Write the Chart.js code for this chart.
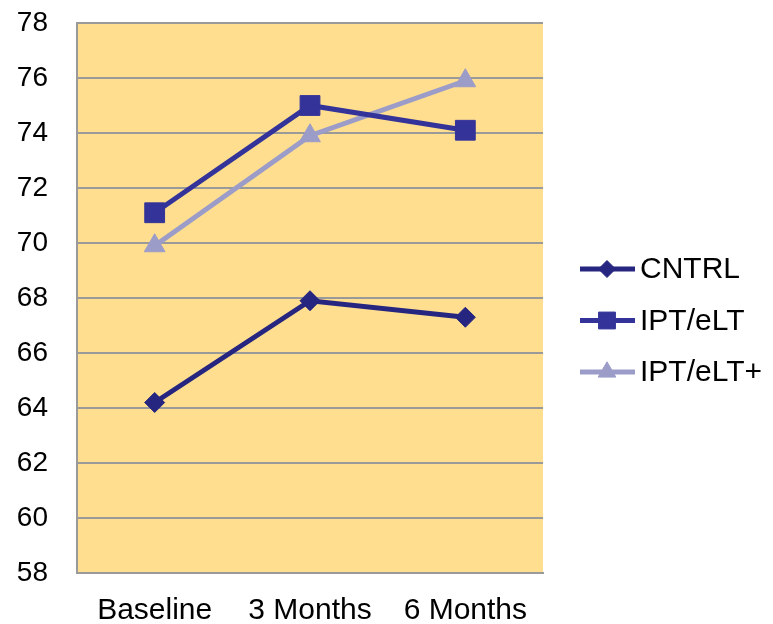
<!doctype html>
<html lang="en">
<head>
<meta charset="utf-8">
<title>Scores over time</title>
<script src="https://cdn.jsdelivr.net/npm/chart.js@4.4.1/dist/chart.umd.min.js"></script>
<style>
  html, body { margin: 0; padding: 0; background: #fff; }
  #wrap { width: 773px; height: 624px; }
</style>
</head>
<body>
<div id="wrap"><canvas id="myChart" width="773" height="624"></canvas></div>
<script>
// data
const categories = ['Baseline', '3 Months', '6 Months'];
const seriesNames = ['CNTRL', 'IPT/eLT', 'IPT/eLT+'];
const cntrl = [64.2, 67.9, 67.3];
const iptElt = [71.1, 75.0, 74.1];
const iptEltPlus = [69.9, 73.9, 75.9];
const yTicks = [58, 60, 62, 64, 66, 68, 70, 72, 74, 76, 78];

const FONT = '"Liberation Sans", Arial, sans-serif';
const colors = ['#262680', '#333399', '#9C9CC8'];
const markers = ['rectRot', 'rect', 'triangle'];
const radii = [10, 14, 12];

// yellow plot background
const plotBg = {
  id: 'plotBg',
  beforeDraw(chart) {
    const a = chart.chartArea, ctx = chart.ctx;
    ctx.save();
    ctx.fillStyle = '#FFDF8F';
    ctx.fillRect(a.left, a.top, a.right - a.left, a.bottom - a.top);
    ctx.restore();
  }
};

// legend with line + marker, like the office style one
const sideLegend = {
  id: 'sideLegend',
  afterDraw(chart) {
    const ctx = chart.ctx, a = chart.chartArea;
    const x0 = a.right + 37;
    let y = 269;
    ctx.save();
    chart.data.datasets.forEach(function(ds) {
      ctx.strokeStyle = ds.borderColor;
      ctx.lineWidth = 5;
      ctx.beginPath();
      ctx.moveTo(x0, y);
      ctx.lineTo(x0 + 55, y);
      ctx.stroke();
      ctx.fillStyle = ds.pointBackgroundColor;
      ctx.strokeStyle = ds.pointBackgroundColor;
      ctx.lineWidth = 1;
      Chart.helpers.drawPoint(ctx, {
        pointStyle: ds.pointStyle, rotation: 0, borderWidth: 1,
        radius: ds.pointRadius * 0.85
      }, x0 + 27, y);
      ctx.fillStyle = '#000';
      ctx.font = '30px ' + FONT;
      ctx.textBaseline = 'middle';
      ctx.textAlign = 'left';
      ctx.fillText(ds.label, x0 + 60, y + 1);
      y += 51.5;
    });
    ctx.restore();
  }
};

const seriesData = [cntrl, iptElt, iptEltPlus];
const datasets = seriesNames.map(function(name, i) {
  return {
    label: name,
    data: seriesData[i],
    borderColor: colors[i],
    backgroundColor: colors[i],
    pointBackgroundColor: colors[i],
    pointBorderColor: colors[i],
    pointStyle: markers[i],
    pointRadius: radii[i],
    pointHoverRadius: radii[i],
    pointBorderWidth: 1,
    borderWidth: 5,
    tension: 0,
    fill: false
  };
});

var ctx = document.getElementById('myChart').getContext('2d');
var chart = new Chart(ctx, {
  type: 'line',
  data: { labels: categories, datasets: datasets },
  plugins: [plotBg, sideLegend],
  options: {
    responsive: false,
    animation: false,
    layout: { padding: { left: 0, top: 23, right: 230, bottom: 0 } },
    plugins: {
      legend: { display: false },
      tooltip: { enabled: false }
    },
    scales: {
      x: {
        offset: true,
        grid: { display: false, drawTicks: false },
        border: { display: true, color: '#9a9a9a', width: 2 },
        ticks: { color: '#000', font: { family: FONT, size: 30 }, padding: 20, maxRotation: 0 },
        afterFit(scale) {
          scale.height = 51;
          scale.paddingLeft = 0;
          scale.paddingRight = 0;
        }
      },
      y: {
        min: yTicks[0],
        max: yTicks[yTicks.length - 1],
        afterBuildTicks(scale) { scale.ticks = yTicks.map(function(v) { return { value: v }; }); },
        grid: { color: '#9a9a9a', lineWidth: 2, drawTicks: false },
        border: { display: true, color: '#9a9a9a', width: 2 },
        ticks: { color: '#000', font: { family: FONT, size: 28 }, padding: 29 },
        afterFit(scale) {
          scale.width = 77;
          scale.paddingTop = 0;
          scale.paddingBottom = 0;
        }
      }
    }
  }
});
</script>
</body>
</html>
